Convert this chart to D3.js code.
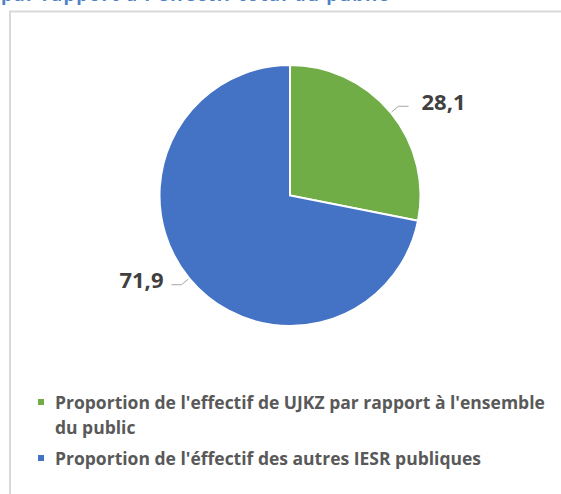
<!DOCTYPE html>
<html>
<head>
<meta charset="utf-8">
<script src="https://cdn.jsdelivr.net/npm/d3@7"></script>
<style>
  body { margin: 0; background: #fff; }
  svg { display: block; }
</style>
</head>
<body>
<div class="chart"></div>
<script>
// Data
const categories = [
  "Proportion de l'effectif de UJKZ par rapport à l'ensemble du public",
  "Proportion de l'éffectif des autres IESR publiques"
];
const values = [28.1, 71.9];
const labels = ['28,1', '71,9'];
const legendLines = [
  ["Proportion de l'effectif de UJKZ par rapport à l'ensemble", 'du public'],
  ["Proportion de l'éffectif des autres IESR publiques"]
];
const colors = ['#70AD47', '#4472C4'];

const width = 561;
const height = 494;
const cx = 290;
const cy = 195.5;
const radius = 130.5;
const font = 'Open Sans, Liberation Sans, Arial, sans-serif';

const svg = d3.select('.chart')
  .append('svg')
  .attr('width', width)
  .attr('height', height);

// title (cut off at top, as in the source)
svg.append('text')
  .attr('x', 1)
  .attr('y', 1)
  .attr('font-family', font)
  .attr('font-weight', 'bold')
  .attr('font-size', 18)
  .attr('fill', '#4F81C7')
  .attr('textLength', 387)
  .text("par rapport à l'effectif total du public");

// chart frame
svg.append('path')
  .attr('d', `M10,${height + 5}V11.5H${width + 5}`)
  .attr('fill', 'none')
  .attr('stroke', '#d9d9d9')
  .attr('stroke-width', 2);

const g = svg.append('g')
  .attr('transform', `translate(${cx},${cy})`);

const pie = d3.pie().value(d => d).sort(null);
const arc = d3.arc().innerRadius(0).outerRadius(radius);
const arcs = pie(values);

g.selectAll('.slice')
  .data(arcs)
  .enter()
  .append('path')
  .attr('class', 'slice')
  .attr('d', arc)
  .attr('fill', (d, i) => colors[i])
  .attr('stroke', '#fff')
  .attr('stroke-width', 2);

// leader lines and labels
const outer = d3.arc().innerRadius(radius + 1).outerRadius(radius + 1);
const knee = d3.arc().innerRadius(radius + 10).outerRadius(radius + 10);

arcs.forEach((d, i) => {
  const p0 = outer.centroid(d);
  const p1 = knee.centroid(d);
  const right = p0[0] > 0;
  const p2 = [p1[0] + (right ? 10 : -10), p1[1]];
  g.append('polyline')
    .attr('points', [p0, p1, p2].map(p => p.join(',')).join(' '))
    .attr('fill', 'none')
    .attr('stroke', '#a6a6a6')
    .attr('stroke-width', 1);
  g.append('text')
    .attr('x', p2[0] + (right ? 13 : -8))
    .attr('y', p2[1] - 4)
    .attr('dy', '0.35em')
    .attr('text-anchor', right ? 'start' : 'end')
    .attr('font-family', font)
    .attr('font-weight', 'bold')
    .attr('font-size', 22)
    .attr('fill', '#404040')
    .text(labels[i]);
});

// legend
const legendY = [409, 465];
const legend = svg.selectAll('.legend')
  .data(categories)
  .enter()
  .append('g')
  .attr('class', 'legend')
  .attr('transform', (d, i) => `translate(38,${legendY[i]})`);

legend.append('rect')
  .attr('x', 0)
  .attr('y', -10)
  .attr('width', 6)
  .attr('height', 6)
  .attr('fill', (d, i) => colors[i]);

legend.each(function (d, i) {
  const t = d3.select(this).append('text')
    .attr('font-family', font)
    .attr('font-weight', 'bold')
    .attr('font-size', 17.5)
    .attr('fill', '#595959');
  legendLines[i].forEach((line, j) => {
    t.append('tspan')
      .attr('x', 17)
      .attr('y', j * 25)
      .text(line);
  });
});
</script>
</body>
</html>
